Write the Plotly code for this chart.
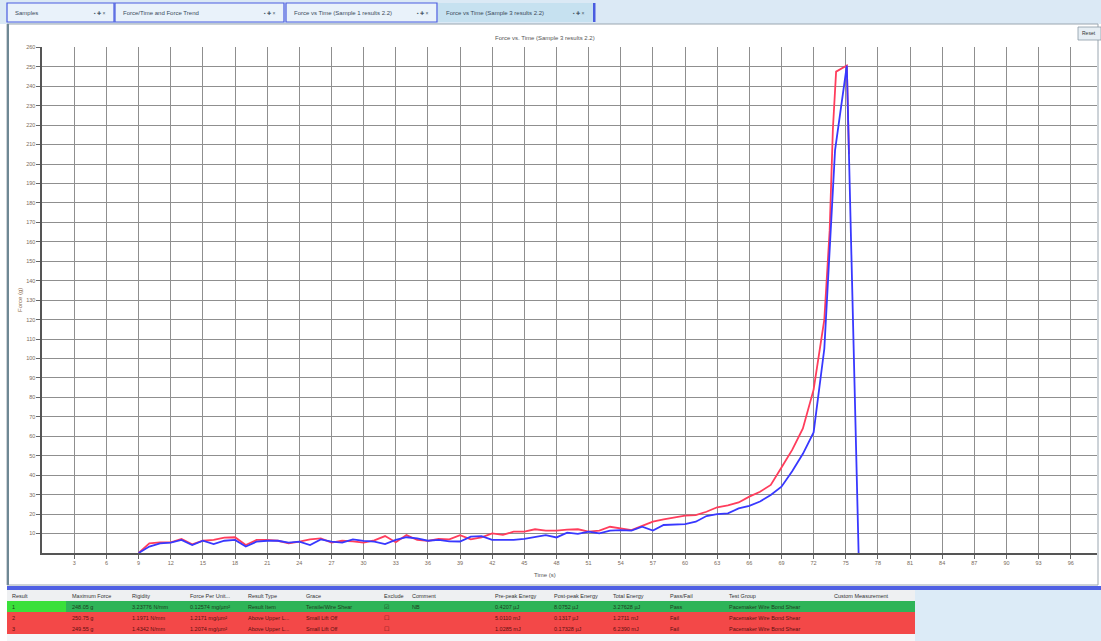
import plotly.graph_objects as go

W, H = 1101, 641
FONT = "Liberation Sans"

# ---------------- data ----------------
red_time = [9, 10, 11, 12, 13, 14, 15, 16, 17, 18,
            19, 20, 21, 22, 23, 24, 25, 26, 27, 28,
            29, 30, 31, 32, 33, 34, 35, 36, 37, 38,
            39, 40, 41, 42, 43, 44, 45, 46, 47, 48,
            49, 50, 51, 52, 53, 54, 55, 56, 57, 58,
            59, 60, 61, 62, 63, 64, 65, 66, 67, 68,
            69, 70, 71, 72, 73,
            73.5, 73.8, 74.1, 75.1, 75.3]
red_force = [0, 5.0, 5.5, 5.5, 7.2, 4.5, 6.3, 6.7, 7.9, 8.1,
             4.1, 6.7, 6.7, 6.3, 5.0, 5.8, 7.0, 7.5, 5.3, 6.3,
             6.0, 5.3, 6.5, 8.7, 5.5, 9.2, 6.7, 6.2, 7.2, 7.0,
             9.2, 7.0, 8.0, 10.1, 9.3, 11.0, 11.0, 12.2, 11.5, 11.5,
             12.0, 12.2, 11.0, 11.5, 13.5, 12.7, 11.8, 13.9, 16.1, 17.3,
             18.3, 19.2, 19.5, 21.2, 23.5, 24.5, 26.0, 29.0, 31.5, 35.0,
             44.0, 53.0, 64.0, 84.0, 120.0,
             166.0, 218.0, 247.5, 250.6, 205.0]

blue_time = [9, 10, 11, 12, 13, 14, 15, 16, 17, 18,
             19, 20, 21, 22, 23, 24, 25, 26, 27, 28,
             29, 30, 31, 32, 33, 34, 35, 36, 37, 38,
             39, 40, 41, 42, 43, 44, 45, 46, 47, 48,
             49, 50, 51, 52, 53, 54, 55, 56, 57, 58,
             59, 60, 61, 62, 63, 64, 65, 66, 67, 68,
             69, 70, 71, 72, 73,
             73.5, 74.0, 75.1, 76.2]
blue_force = [0, 3.3, 5.0, 5.3, 6.7, 4.1, 6.3, 4.6, 6.3, 6.7,
              3.3, 5.8, 6.3, 6.3, 5.3, 5.8, 4.1, 7.0, 5.8, 5.3,
              7.0, 6.2, 5.8, 4.6, 6.7, 8.1, 7.5, 6.3, 6.7, 6.0,
              5.9, 8.4, 8.7, 6.7, 6.7, 6.7, 7.3, 8.3, 9.2, 8.0,
              10.5, 9.8, 11.0, 10.1, 11.5, 11.8, 11.5, 13.5, 11.5, 14.4,
              14.5, 14.8, 16.1, 19.0, 20.0, 20.4, 22.9, 24.2, 26.5, 29.8,
              34.1, 42.0, 51.0, 62.0, 105.0,
              155.0, 207.0, 250.6, 0]

x_ticks = [3, 6, 9, 12, 15, 18, 21, 24, 27, 30, 33, 36, 39, 42, 45, 48,
           51, 54, 57, 60, 63, 66, 69, 72, 75, 78, 81, 84, 87, 90, 93, 96, 99]
y_ticks = [10, 20, 30, 40, 50, 60, 70, 80, 90, 100, 110, 120, 130,
           140, 150, 160, 170, 180, 190, 200, 210, 220, 230, 240, 250, 260]

tab_labels = ["Samples", "Force/Time and Force Trend",
              "Force vs Time (Sample 1 results 2.2)",
              "Force vs Time (Sample 3 results 2.2)"]
chart_title = "Force vs. Time (Sample 3 results 2.2)"

table_columns = ["Result", "Maximum Force", "Rigidity", "Force Per Unit...",
                 "Result Type", "Grace", "Exclude", "Comment",
                 "Pre-peak Energy", "Post-peak Energy", "Total Energy",
                 "Pass/Fail", "Test Group", "Custom Measurement"]
table_rows = [
    ["1", "248.05 g", "3.23776 N/mm", "0.12574 mg/µm²", "Result Item",
     "Tensile/Wire Shear", "☑", "NB", "0.4207 µJ", "8.0752 µJ",
     "3.27628 µJ", "Pass", "Pacemaker Wire Bond Shear", ""],
    ["2", "250.75 g", "1.1971 N/mm", "1.2171 mg/µm²", "Above Upper L...",
     "Small Lift Off", "☐", "", "5.0110 mJ", "0.1317 µJ",
     "1.2711 mJ", "Fail", "Pacemaker Wire Bond Shear", ""],
    ["3", "249.55 g", "1.4342 N/mm", "1.2074 mg/µm²", "Above Upper L...",
     "Small Lift Off", "☐", "", "1.0285 mJ", "0.17328 µJ",
     "6.2390 mJ", "Fail", "Pacemaker Wire Bond Shear", ""],
]
row_status = ["pass", "fail", "fail"]

# ---------------- helpers ----------------
def px(x):
    return x / W


def py(y):
    return 1 - y / H


shapes = []
annotations = []


def rect(x0, y0, x1, y1, fill, line=None, lw=0, layer="below"):
    shapes.append(dict(type="rect", xref="paper", yref="paper",
                       x0=px(x0), x1=px(x1), y0=py(y1), y1=py(y0),
                       fillcolor=fill, layer=layer,
                       line=dict(color=line if line else fill, width=lw)))


def text(x, y, s, size=6, color="#333333", anchor="left", angle=0):
    annotations.append(dict(x=px(x), y=py(y), xref="paper", yref="paper",
                            text=s, showarrow=False, xanchor=anchor,
                            yanchor="middle", textangle=angle,
                            font=dict(size=size, color=color, family=FONT)))


# ---------------- UI chrome ----------------
rect(0, 0, W, 24, "#dbe9f5")
tab_x = [(7, 114), (115, 284), (286, 437), (438, 593)]
for i, (a, b) in enumerate(tab_x):
    if i < 3:
        rect(a, 3, b, 22, "#e9f2fa", "#4a5ce0", 1.2)
    else:
        rect(a, 3, b, 22, "#c6e1f0")
    text(a + 6, 12.5, tab_labels[i], size=6, color="#3a4a5a")
    text(b - 6, 12.5, "▪ ✚ ×", size=5, color="#4a5a6a", anchor="right")
rect(593, 3, 595.5, 22, "#4a5ce0")

# main panel
rect(7, 24, 1098, 585, "#ffffff", "#9aa6b0", 1)
rect(7, 24, 9, 585, "#6f8894")
# reset button
rect(1078, 27, 1101, 40, "#e6eef4", "#8c9aa6", 0.8)
text(1080, 33.5, "Reset", size=5, color="#333333")

# separator bar
rect(7, 586, W, 590, "#4f60e4")
# table area
rect(7, 590, W, H, "#dcebf7")
rect(7, 590, 915, 601, "#eef0f2")
col_x = [10, 70, 130, 188, 246, 304, 382, 410, 493, 552, 611, 668, 727, 832]
row_y = [(601, 612), (612, 623), (623, 634)]
for r, (y0, y1) in enumerate(row_y):
    if row_status[r] == "pass":
        rect(7, y0, 915, y1, "#2eb458")
        rect(7, y0, 66, y1, "#3ae03a")
    else:
        rect(7, y0, 915, y1, "#f34848")
rect(7, 634, 915, H, "#f4f6f8")
for cx, name in zip(col_x, table_columns):
    text(cx, 595.5, name, size=5.5, color="#333333")
for r, (y0, y1) in enumerate(row_y):
    tc = "#1e3a1e" if row_status[r] == "pass" else "#5a1010"
    for cx, val in zip(col_x, table_rows[r]):
        if val:
            text(cx, (y0 + y1) / 2, val, size=5.5, color=tc)

# chart texts
text(545, 38, chart_title, size=6, color="#555555", anchor="center")
text(545, 575, "Time (s)", size=6, color="#555555", anchor="center")
text(20, 300, "Force (g)", size=6, color="#8a6a4a", anchor="center", angle=-90)

# ---------------- figure ----------------
fig = go.Figure()
fig.add_trace(go.Scatter(x=red_time, y=red_force, mode="lines",
                         line=dict(color="#ff3d5c", width=1.8),
                         name="Result 2", hoverinfo="skip"))
fig.add_trace(go.Scatter(x=blue_time, y=blue_force, mode="lines",
                         line=dict(color="#3838ff", width=1.8),
                         name="Result 3", hoverinfo="skip"))

x0p, x1p = 42.2, 1097
y_top, y_bot = 47.3, 553
fig.update_layout(
    width=W, height=H, autosize=False,
    margin=dict(l=0, r=0, t=0, b=0, pad=0),
    paper_bgcolor="#ffffff", plot_bgcolor="#ffffff",
    showlegend=False,
    shapes=shapes, annotations=annotations,
    xaxis=dict(domain=[px(x0p), px(x1p)],
               range=[0, (x1p - x0p) / 10.714],
               tickvals=x_ticks, ticktext=[str(v) for v in x_ticks],
               ticks="outside", ticklen=4, tickcolor="#666666",
               tickfont=dict(size=5.5, color="#7a6a5a", family=FONT),
               showgrid=True, gridcolor="#8f8f8f", gridwidth=1,
               showline=True, linecolor="#555555", linewidth=1.5,
               zeroline=False, fixedrange=True, automargin=False),
    yaxis=dict(domain=[py(y_bot), py(y_top)],
               range=[0, 260],
               tickvals=y_ticks, ticktext=[str(v) for v in y_ticks],
               ticks="outside", ticklen=4, tickcolor="#666666",
               tickfont=dict(size=5.5, color="#7a6a5a", family=FONT),
               showgrid=True, gridcolor="#8f8f8f", gridwidth=1,
               showline=True, linecolor="#555555", linewidth=1.5,
               zeroline=False, fixedrange=True, automargin=False),
)

fig.write_html("out.html",
               config={"displayModeBar": False},
               post_script="document.body.style.margin='0';"
                           "document.body.style.overflow='hidden';")
